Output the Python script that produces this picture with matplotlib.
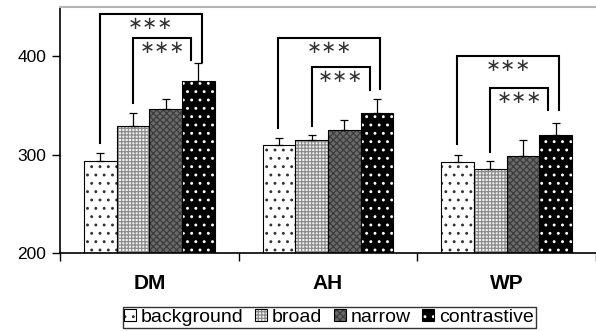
import numpy as np
import matplotlib
matplotlib.use("Agg")
import matplotlib.pyplot as plt
from matplotlib.patches import Patch

plt.rcParams['font.family'] = ['Liberation Sans', 'DejaVu Sans']
plt.rcParams['hatch.linewidth'] = 0.9

groups = ['DM', 'AH', 'WP']
conditions = ['background', 'broad', 'narrow', 'contrastive']

# mean values per group (background, broad, narrow, contrastive)
means_DM = [294, 329, 346, 375]
means_AH = [310, 315, 325, 342]
means_WP = [292, 285, 299, 320]
# upper error (SE)
err_DM = [8, 13, 11, 18]
err_AH = [7, 5, 10, 15]
err_WP = [8, 9, 16, 12]

# significance brackets: group, left bar, right bar, top, left foot, right foot
brackets = [
    (0, 0, 3, 443, 312, 394),
    (0, 1, 3, 418, 352, 396),
    (1, 0, 3, 418, 327, 367),
    (1, 1, 3, 389, 329, 366),
    (2, 0, 3, 400, 311, 345),
    (2, 1, 3, 368, 303, 345),
]
star_text = '∗∗∗'

means = np.array([means_DM, means_AH, means_WP])
errs = np.array([err_DM, err_AH, err_WP])

fig = plt.figure(figsize=(5.96, 3.31), dpi=100)
ax = fig.add_axes([60/596, 1-253/331, 536/596, 246/331])

x = np.arange(len(groups))
w = 0.1825
offsets = (np.arange(4) - 1.5) * w

face = ['white', '#f2f2f2', '#6a6a6a', 'black']
hatch = ['..', '+++++', 'xxxxx', '..']
hcol = ['#333333', '#8c8c8c', '#3c3c3c', 'white']

for i in range(4):
    xs = x + offsets[i]
    ax.bar(xs, means[:, i] - 200, w, bottom=200, color=face[i], hatch=hatch[i],
           edgecolor=hcol[i], linewidth=0, zorder=2)
    ax.bar(xs, means[:, i] - 200, w, bottom=200, fill=False,
           edgecolor='black', linewidth=0.8, zorder=3)
    ax.errorbar(xs, means[:, i], yerr=[np.zeros(3), errs[:, i]], fmt='none',
                ecolor='black', elinewidth=0.9, capsize=3, capthick=0.9, zorder=4)

for g, a, b, top, yl, yr in brackets:
    xl = x[g] + offsets[a]
    xr = x[g] + offsets[b]
    if a == 0:
        xr += 0.02
        xl -= 0.005
    else:
        xr -= 0.04
    ax.plot([xl, xl, xr, xr], [yl, top, top, yr], color='black', lw=1.5,
            solid_joinstyle='miter', zorder=5)
    ax.text((xl + xr) / 2, top - 10, star_text, ha='center', va='center',
            fontsize=13, family='DejaVu Sans', color='#333333')

ax.set_xlim(-0.5, 2.5)
ax.set_ylim(200, 450)
ax.set_yticks([200, 300, 400])
ax.set_yticklabels(['200', '300', '400'], fontsize=12.5)
ax.set_xticks([-0.5, 0.5, 1.5, 2.5])
ax.set_xticklabels([])
ax.set_xticks(x, minor=True)
ax.set_xticklabels(groups, minor=True, fontsize=15, fontweight='bold')
ax.tick_params(axis='x', which='minor', length=0, pad=15)
ax.tick_params(axis='x', which='major', length=6, width=1, direction='out')
ax.tick_params(axis='y', length=6, width=1, direction='out', pad=4)

ax.spines['right'].set_visible(False)
ax.spines['top'].set_color('#b4b4b4')
ax.spines['top'].set_linewidth(1.5)
ax.spines['left'].set_linewidth(1.2)
ax.spines['bottom'].set_linewidth(1.2)

handles = [(Patch(facecolor=face[i], hatch=hatch[i], edgecolor=hcol[i], linewidth=0),
            Patch(fill=False, edgecolor='black', linewidth=0.8))
           for i in range(4)]
leg = fig.legend(handles, conditions, loc='center', bbox_to_anchor=(329/596, 1-317.5/331),
                 ncol=4, fontsize=14, frameon=True, fancybox=False, edgecolor='black',
                 handlelength=0.6, handleheight=0.6, handletextpad=0.25,
                 columnspacing=0.6, borderpad=0.1, borderaxespad=0)
leg.get_frame().set_linewidth(1.0)

fig.savefig('out.png', dpi=100)
